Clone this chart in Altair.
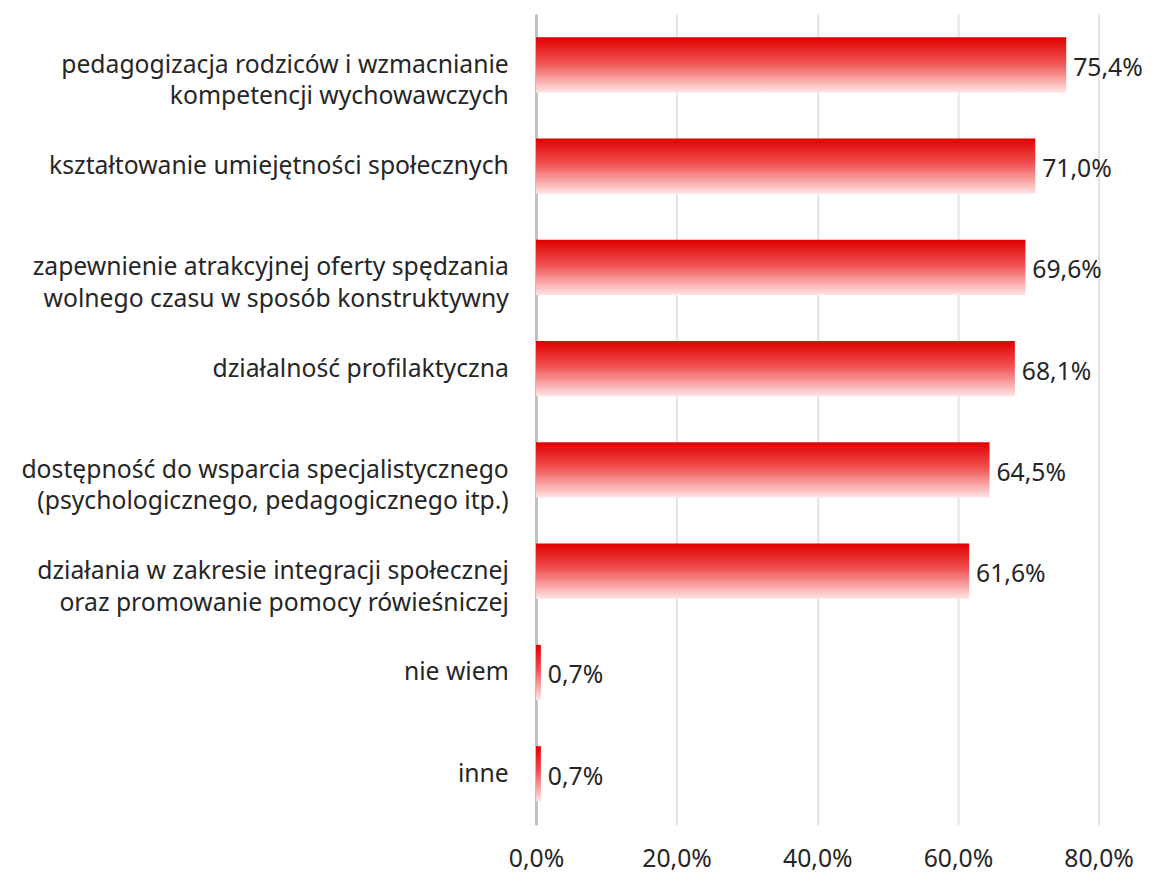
import altair as alt
import pandas as pd

categories = [
    "pedagogizacja rodziców i wzmacnianie|kompetencji wychowawczych",
    "kształtowanie umiejętności społecznych",
    "zapewnienie atrakcyjnej oferty spędzania|wolnego czasu w sposób konstruktywny",
    "działalność profilaktyczna",
    "dostępność do wsparcia specjalistycznego|(psychologicznego, pedagogicznego itp.)",
    "działania w zakresie integracji społecznej|oraz promowanie pomocy rówieśniczej",
    "nie wiem",
    "inne",
]
values = [0.754, 0.710, 0.696, 0.681, 0.645, 0.616, 0.007, 0.007]
x_ticks = [0.0, 0.2, 0.4, 0.6, 0.8]

df = pd.DataFrame({"cat": categories, "v": values})

FONT = "Noto Sans"
FS = 25
TXT = "#262626"

grad = alt.Gradient(
    gradient="linear",
    stops=[
        alt.GradientStop(color="#e00000", offset=0),
        alt.GradientStop(color="#f05050", offset=0.45),
        alt.GradientStop(color="#ffe4e4", offset=1),
    ],
    x1=0, x2=0, y1=0, y2=1,
)

y_enc = alt.Y(
    "cat:N",
    sort=categories,
    title=None,
    scale=alt.Scale(paddingInner=0.455, paddingOuter=0.23),
    axis=alt.Axis(
        labelExpr="split(datum.label, '|')",
        labelFont=FONT,
        labelFontSize=FS,
        labelColor=TXT,
        labelPadding=28,
        labelLimit=1000,
        labelLineHeight=32,
        ticks=False,
        domain=True,
        domainColor="#bfbfbf",
        domainWidth=3,
        grid=False,
    ),
)

x_enc = alt.X(
    "v:Q",
    title=None,
    scale=alt.Scale(domain=[0, 0.8], nice=False),
    axis=alt.Axis(
        values=x_ticks,
        labelExpr="replace(format(datum.value, '.1%'), '.', ',')",
        labelFont=FONT,
        labelFontSize=FS,
        labelColor=TXT,
        labelPadding=22,
        ticks=False,
        domain=False,
        grid=True,
        gridColor="#e3e3e3",
        gridWidth=2,
        labelFlush=False,
    ),
)

bars = alt.Chart(df).mark_bar(color=grad).encode(x=x_enc, y=y_enc)

text = (
    alt.Chart(df)
    .transform_calculate(lbl="replace(format(datum.v, '.1%'), '.', ',')")
    .mark_text(align="left", baseline="middle", dx=7, dy=3, font=FONT, fontSize=FS, color=TXT)
    .encode(x="v:Q", y=alt.Y("cat:N", sort=categories), text="lbl:N")
)

chart = (
    alt.layer(bars, text)
    .properties(
        width=569,
        height=820,
        background="white",
        padding={"top": 1, "left": 12, "right": 5, "bottom": 5},
    )
    .configure_view(stroke=None)
)

chart.save("out.html", embed_options={"renderer": "svg", "actions": False})
